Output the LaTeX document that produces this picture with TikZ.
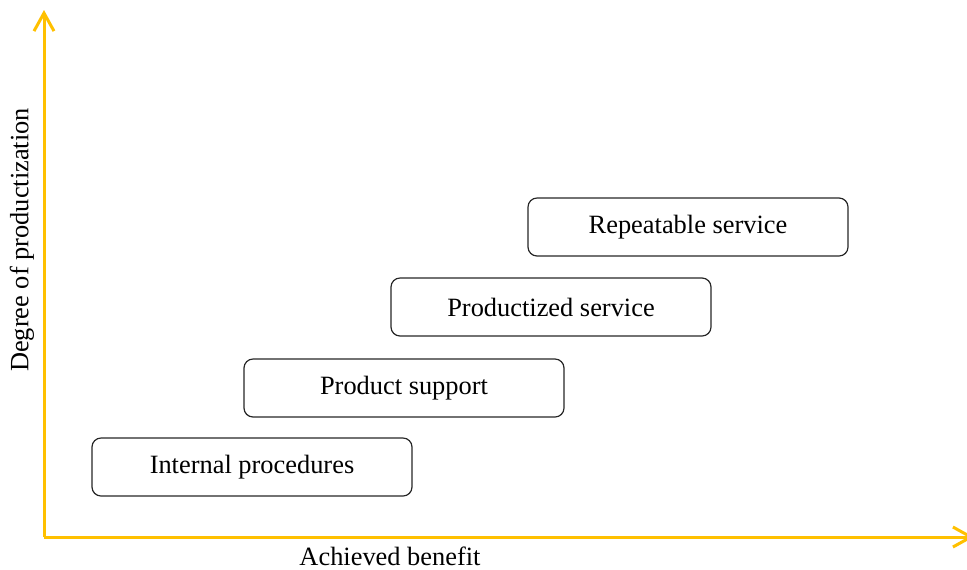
\documentclass[tikz,border=0pt]{standalone}
\usepackage{fontspec}
\setmainfont{Liberation Serif}
\usetikzlibrary{arrows.meta}
\begin{document}
\begin{tikzpicture}[x=0.5pt,y=-0.5pt,
    stagebox/.style={draw=black!85,line width=0.6pt,rounded corners=4.5pt,
      minimum width=160pt,minimum height=29pt,inner sep=0pt,
      font=\fontsize{13.2}{15}\selectfont},
    axislabel/.style={font=\fontsize{13.2}{15}\selectfont,inner sep=0pt},
    axisline/.style={draw={rgb,255:red,255;green,192;blue,0},line width=1.5pt,
      -{Straight Barb[length=9pt,width=10pt,line width=1.5pt]}}]
      \clip (0,0) rectangle (967,569);
      \coordinate (origin) at (44,537);
      \coordinate (ytip) at (44,10);
      \coordinate (xtip) at (974,537);
      \draw
        (252,467) node[stagebox] (internal){Internal procedures}
        (404,388) node[stagebox] (support){Product support}
        (551,307) node[stagebox] (productized){Productized service}
        (688,227) node[stagebox] (repeatable){Repeatable service};
      \begin{scope}[axisline]
        \draw (origin) to (ytip);
        \draw (origin) to (xtip);
      \end{scope}
      \node[axislabel,rotate=90] (ylabel) at (22,240) {Degree of productization};
      \node[axislabel] (xlabel) at (390,556) {Achieved benefit};
    \end{tikzpicture}
\end{document}
